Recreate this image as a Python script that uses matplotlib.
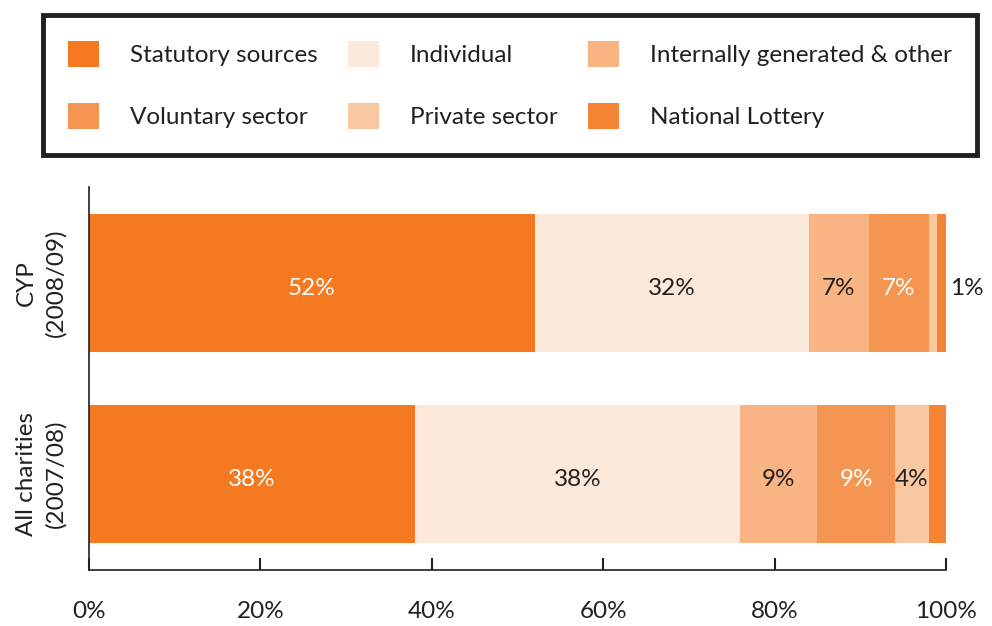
import matplotlib
matplotlib.use("Agg")
import matplotlib.pyplot as plt
from matplotlib.patches import Rectangle, Patch
import numpy as np

plt.rcParams['font.family'] = ['Lato', 'DejaVu Sans']

groups = ["All charities\n(2007/08)", "CYP\n(2008/09)"]
categories = ["Statutory sources", "Individual", "Internally generated & other",
              "Voluntary sector", "Private sector", "National Lottery"]
cyp_values = [52, 32, 7, 7, 1, 1]
all_values = [38, 38, 9, 9, 4, 2]
colors = ["#F47920", "#FDE9DB", "#F8B482", "#F59552", "#FAC8A0", "#F58534"]
cyp_labels = ["52%", "32%", "7%", "7%", "", "1%"]
all_labels = ["38%", "38%", "9%", "9%", "4%", ""]
label_colors = ["white", "#231F20", "#231F20", "white", "#231F20", "#231F20"]

fig = plt.figure(figsize=(9.92, 6.26), dpi=100)
ax = fig.add_axes([89/992, 1-570/626, (946-89)/992, (570-187)/626])

data = np.array([all_values, cyp_values])
ypos = np.arange(len(groups))
left = np.zeros(len(groups))
fs = 17.5
for i, cat in enumerate(categories):
    ax.barh(ypos, data[:, i], left=left, height=0.72, color=colors[i], label=cat, linewidth=0)
    for j, labs in enumerate([all_labels, cyp_labels]):
        lab = labs[i]
        if lab:
            if i == len(categories) - 1:
                ax.annotate(lab, (left[j] + data[j, i], ypos[j]), xytext=(3, -4),
                            textcoords="offset points", ha="left", va="center",
                            fontsize=fs, color=label_colors[i])
            else:
                ax.annotate(lab, (left[j] + data[j, i] / 2, ypos[j]), xytext=(0, -4),
                            textcoords="offset points", ha="center", va="center",
                            fontsize=fs, color=label_colors[i])
    left += data[:, i]

ax.set_xlim(0, 100)
ax.set_ylim(-0.5, 1.5)
ax.set_xticks(np.arange(0, 101, 20))
ax.set_xticklabels([f"{v}%" for v in range(0, 101, 20)], fontsize=fs, color="#231F20")
ax.set_yticks(ypos)
ax.set_yticklabels(groups, rotation=90, va="center", ha="center", fontsize=fs,
                   color="#231F20", multialignment="center", linespacing=1.45)
ax.tick_params(axis="y", length=0, pad=34.5)
ax.tick_params(axis="x", direction="in", length=9, width=1.5, pad=22, color="#231F20")
for s in ["top", "right"]:
    ax.spines[s].set_visible(False)
for s in ["left", "bottom"]:
    ax.spines[s].set_linewidth(1.2)
    ax.spines[s].set_color("#231F20")

# legend frame
fig.patches.append(Rectangle((43/992, 1-155/626), (977-43)/992, (155-15)/626,
                             transform=fig.transFigure, fill=False, edgecolor="#231F20",
                             linewidth=3.5))
handles = [Patch(facecolor=c, edgecolor="none") for c in colors]
order = [0, 3, 1, 4, 2, 5]
leg = fig.legend([handles[k] for k in order], [categories[k] for k in order],
                 ncol=3, loc="upper left", bbox_to_anchor=(56/992, 1-29/626),
                 frameon=False, fontsize=fs, handlelength=1.25, handleheight=1.25,
                 handletextpad=1.3, columnspacing=1.25, labelspacing=1.5,
                 borderpad=0, labelcolor="#231F20")

fig.savefig("out.png", dpi=100)
